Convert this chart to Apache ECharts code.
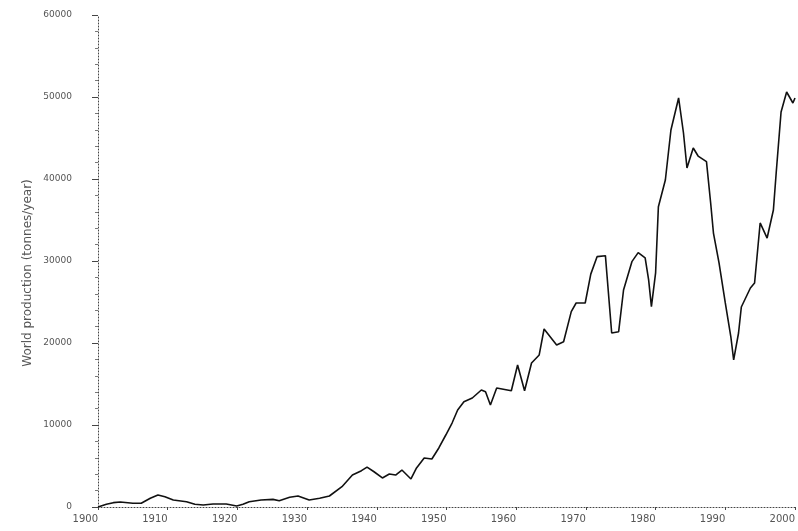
<!DOCTYPE html>
<html>
<head>
<meta charset="utf-8">
<script src="https://cdn.jsdelivr.net/npm/echarts@6/dist/echarts.min.js"></script>
<style>
  html, body { margin: 0; padding: 0; background: #fff; }
  #chart { width: 798px; height: 531px; }
</style>
</head>
<body>
<div id="chart"></div>
<script>
// years (fractional) and production values
const years = [
  1900, 1901.2, 1902.2, 1903.2, 1905.0, 1906.2, 1907.5, 1908.6, 1909.6, 1910.8,
  1912.7, 1913.9, 1915.1, 1916.5, 1918.4, 1919.9, 1920.8, 1921.7, 1923.4, 1925.1,
  1926.0, 1927.5, 1928.7, 1930.3, 1931.8, 1933.2, 1935.0, 1936.5, 1937.8, 1938.6,
  1939.6, 1940.8, 1941.8, 1942.7, 1943.6, 1944.9, 1945.7, 1946.8, 1947.9, 1948.9,
  1949.9, 1950.8, 1951.6, 1952.5, 1953.7, 1955.0, 1955.6, 1956.3, 1957.2, 1959.3,
  1960.2, 1961.2, 1962.2, 1963.3, 1964.0, 1965.8, 1966.8, 1967.9, 1968.6, 1969.9,
  1970.7, 1971.6, 1972.8, 1973.0, 1973.7, 1974.7, 1975.4, 1976.6, 1977.5, 1978.5,
  1979.0, 1979.4, 1980.0, 1980.4, 1981.4, 1982.2, 1983.3, 1984.0, 1984.5, 1985.4,
  1986.1, 1987.3, 1987.9, 1988.3, 1989.1, 1990.0, 1990.8, 1991.2, 1991.9, 1992.3,
  1993.6, 1994.2, 1995.0, 1996.0, 1996.9, 1997.3, 1998.0, 1998.8, 1999.7, 2000
]
const production = [
  0, 330, 530, 610, 450, 450, 1060, 1460, 1260, 850,
  650, 330, 240, 370, 370, 120, 330, 650, 850, 930,
  770, 1180, 1340, 850, 1060, 1340, 2480, 3900, 4430, 4870,
  4300, 3540, 4020, 3900, 4510, 3420, 4760, 5980, 5850, 7200,
  8780, 10240, 11830, 12840, 13290, 14270, 14060, 12440, 14510, 14180,
  17320, 14180, 17560, 18540, 21710, 19760, 20160, 23820, 24880, 24880,
  28400, 30530, 30650, 28540, 21220, 21380, 26460, 29920, 31020, 30370,
  27690, 24430, 28540, 36620, 39880, 45980, 49880, 45610, 41340, 43780,
  42800, 42110, 37070, 33410, 29760, 24880, 20730, 17930, 21220, 24390,
  26710, 27320, 34640, 32800, 36220, 40730, 48170, 50610, 49270, 49880
]
const yTicks = [0, 10000, 20000, 30000, 40000, 50000, 60000]
const xTicks = [1900, 1910, 1920, 1930, 1940, 1950, 1960, 1970, 1980, 1990, 2000]

const chart = echarts.init(document.getElementById("chart"), null, { renderer: "canvas" })

const axisColor = "#444"
const labelStyle = { color: "#555", fontSize: 9, fontFamily: "DejaVu Sans, sans-serif" }

chart.setOption({
  animation: false,
  backgroundColor: "#fff",
  grid: { left: 98, right: 1, top: 15, bottom: 24, containLabel: false },
  xAxis: {
    type: "value",
    min: xTicks[0],
    max: xTicks[xTicks.length - 1],
    interval: 10,
    axisLine: { lineStyle: { color: axisColor, type: [1, 2], width: 1 } },
    axisTick: { show: true, length: 3, lineStyle: { color: axisColor } },
    axisLabel: {
      ...labelStyle,
      fontSize: 10,
      margin: 7,
      align: "right",
      formatter: (v) => (xTicks.includes(v) ? String(v) : ""),
    },
    splitLine: { show: false },
  },
  yAxis: {
    type: "value",
    min: yTicks[0],
    max: yTicks[yTicks.length - 1],
    interval: 10000,
    name: "World production (tonnes/year)",
    nameLocation: "middle",
    nameGap: 64,
    nameMoveOverlap: false,
    nameTextStyle: { ...labelStyle, fontSize: 12, padding: [0, 24, 0, 0] },
    axisLine: { show: true, lineStyle: { color: axisColor, type: [1, 2], width: 1 } },
    axisTick: { show: true, length: 6, lineStyle: { color: axisColor } },
    minorTick: { show: true, splitNumber: 5, length: 3, lineStyle: { color: "#777" } },
    axisLabel: { ...labelStyle, margin: 26, formatter: (v) => String(v) },
    splitLine: { show: false },
  },
  series: [
    {
      type: "line",
      data: years.map((y, i) => [y, production[i]]),
      showSymbol: false,
      smooth: false,
      lineStyle: { color: "#111", width: 1.6 },
      itemStyle: { color: "#111" },
    },
  ],
})
</script>
</body>
</html>
